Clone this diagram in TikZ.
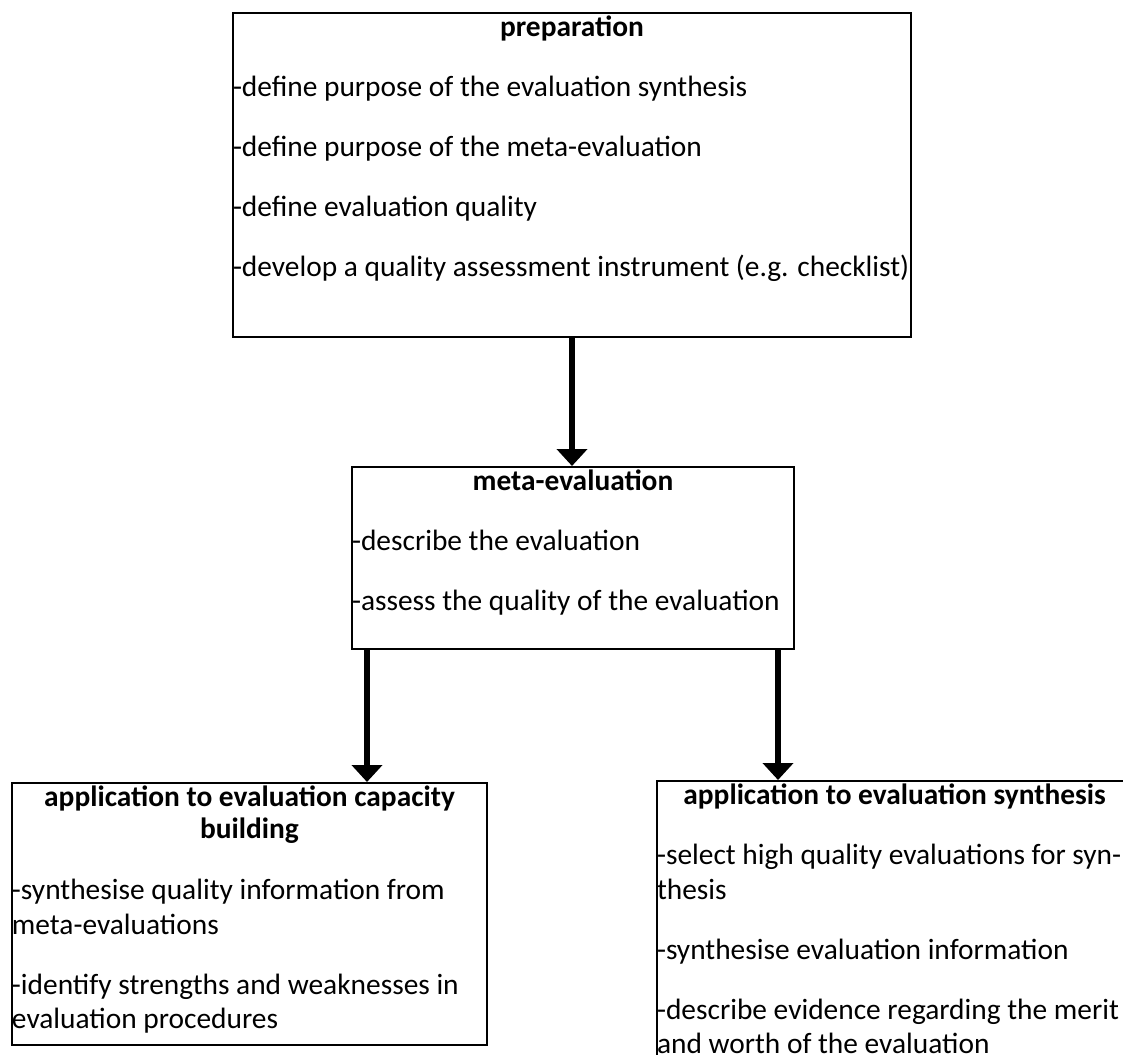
\documentclass[tikz,border=0pt]{standalone}
\usepackage{fontspec}
\setmainfont{Carlito}
\usetikzlibrary{arrows.meta}
\newcommand\gapitem{\par\vspace{25.5pt}}
\newcommand\boxtitle[1]{{\centering\bfseries\rule{0pt}{23.5pt}#1\par}}
\begin{document}
\begin{tikzpicture}[x=1pt,y=-1pt]
\tikzset{
  boxnode/.style={draw, line width=2pt, inner sep=0pt, anchor=north west,
    font=\fontsize{29.4pt}{34.5pt}\selectfont},
  flowarrow/.style={line width=6pt, -{Triangle[width=30pt,length=17pt]}}
}
\useasboundingbox (0,0) rectangle (1123,1054);

\node[boxnode] (prep) at (232,12) {\parbox[t][324pt][t]{678pt}{\raggedright\parindent=0pt\parskip=0pt
  \boxtitle{preparation}\vspace{25.5pt}
  -define purpose of the evaluation synthesis\gapitem
  -define purpose of the meta-evaluation\gapitem
  -define evaluation quality\gapitem
  -develop a quality assessment instrument (e.g. checklist)\par}};

\node[boxnode] (meta) at (351,466) {\parbox[t][182pt][t]{442pt}{\raggedright\parindent=0pt\parskip=0pt
  \boxtitle{meta-evaluation}\vspace{25.5pt}
  -describe the evaluation\gapitem
  -assess the quality of the evaluation\par}};

\node[boxnode] (left) at (11,782) {\parbox[t][262pt][t]{475pt}{\raggedright\parindent=0pt\parskip=0pt
  {\centering\bfseries\baselineskip=32pt\rule{0pt}{23.5pt}application to evaluation capacity\\building\par}\vspace{26.5pt}
  -synthesise quality information from\newline meta-evaluations\gapitem
  -identify strengths and weaknesses in\newline evaluation procedures\par}};

\node[boxnode] (right) at (656,780) {\parbox[t][290pt][t]{475pt}{\raggedright\parindent=0pt\parskip=0pt
  \boxtitle{application to evaluation synthesis}\vspace{25.5pt}
  -select high quality evaluations for syn-\newline thesis\gapitem
  -synthesise evaluation information\gapitem
  -describe evidence regarding the merit\newline and worth of the evaluation\par}};

\draw[flowarrow] (prep.south) -- (prep.south |- meta.north);
\draw[flowarrow] ([xshift=16pt]meta.south west) -- ([xshift=16pt]meta.south west |- left.north);
\draw[flowarrow] ([xshift=-17pt]meta.south east) -- ([xshift=-17pt]meta.south east |- right.north);
\end{tikzpicture}
\end{document}
